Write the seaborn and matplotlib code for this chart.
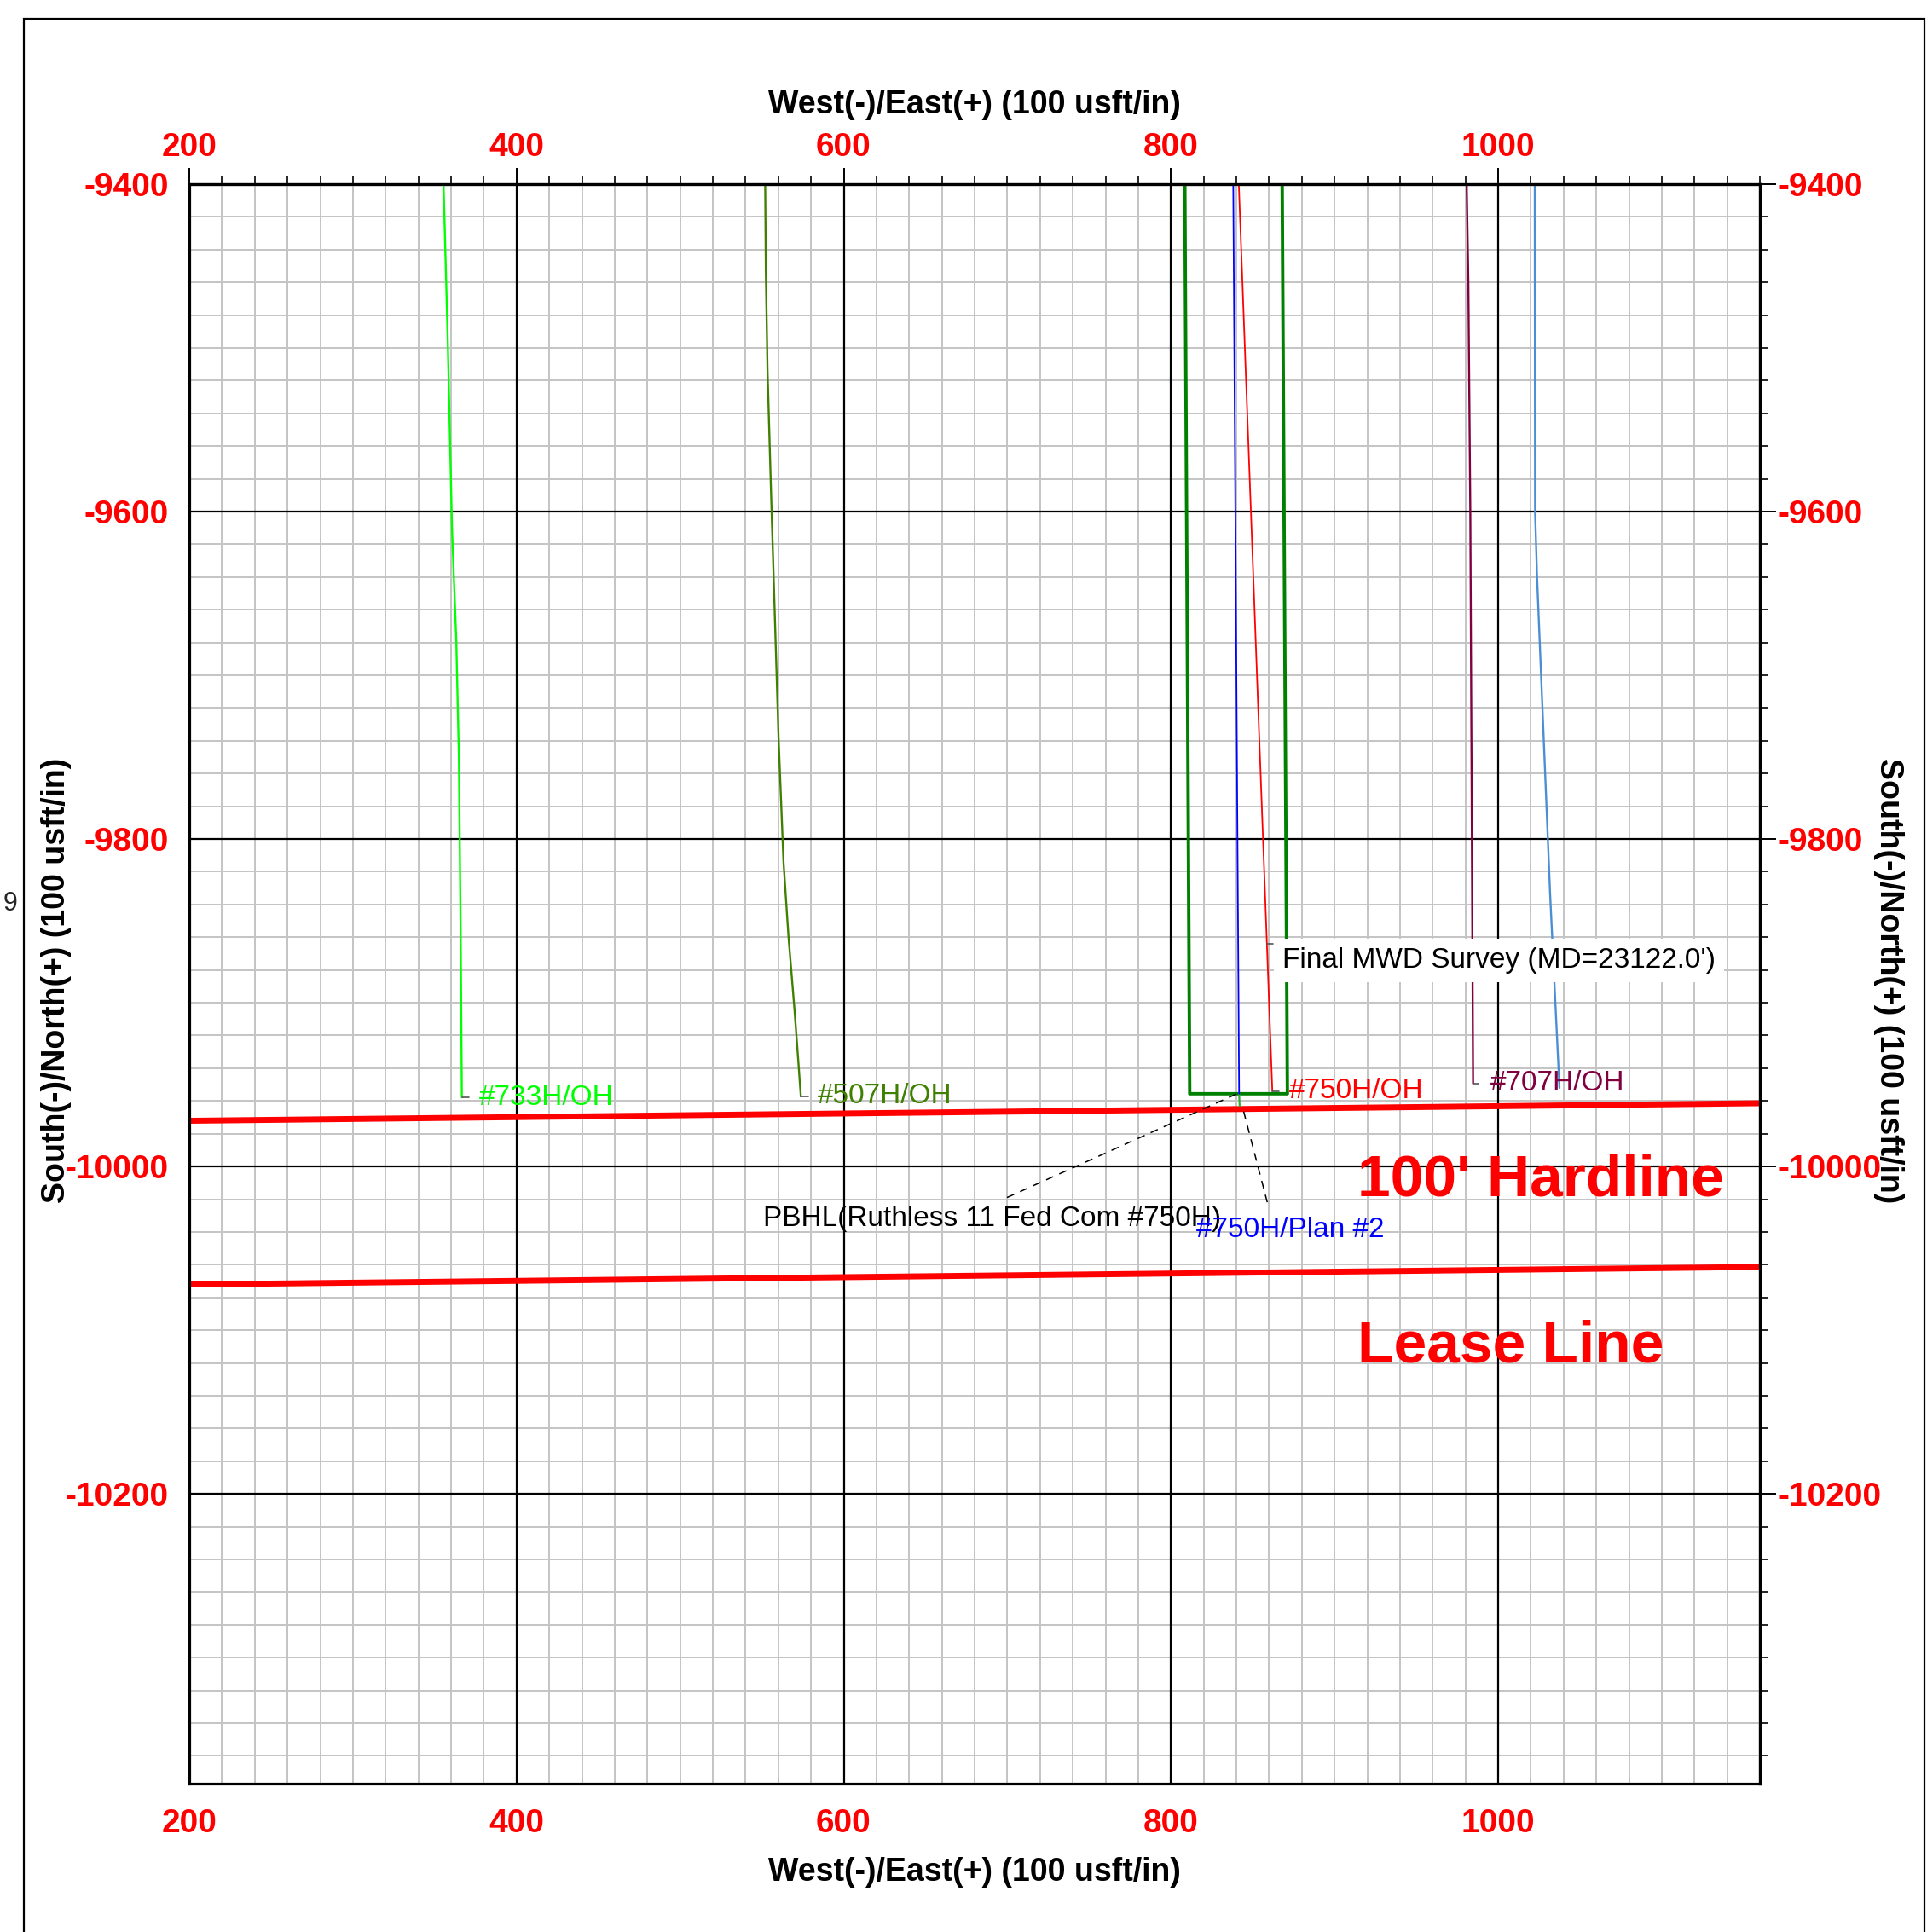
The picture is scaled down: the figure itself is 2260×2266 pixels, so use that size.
import pandas as pd
import seaborn as sns
import matplotlib.pyplot as plt
from matplotlib.ticker import MultipleLocator
from matplotlib.patches import Rectangle

X_LIM = (200, 1160)
Y_LIM = (-10377, -9400)
X_TICKS = [200, 400, 600, 800, 1000]
Y_TICKS = [-9400, -9600, -9800, -10000, -10200]

HARDLINE_X = [200, 1160]
HARDLINE_Y = [-9972.1, -9961.4]
LEASE_X = [200, 1160]
LEASE_Y = [-10072.1, -10061.4]

WELL_733H_X = [355.4, 358.0, 360.6, 363.2, 364.8, 365.8, 366.6]
WELL_733H_Y = [-9400, -9496, -9611, -9679, -9750, -9850, -9957.8]
WELL_507H_X = [552.0, 552.4, 553.4, 555.6, 557.9, 560.2, 563.2, 566.2, 569.9, 572.2, 573.8]
WELL_507H_Y = [-9400, -9453, -9513, -9589, -9664, -9739, -9814, -9859, -9904, -9935, -9957.3]
WELL_750H_X = [841.5, 862.0]
WELL_750H_Y = [-9400, -9954]
PLAN_750H_X = [838.1, 841.7]
PLAN_750H_Y = [-9400, -9955.6]
WELL_707H_X = [980.8, 981.8, 983.0, 984.7]
WELL_707H_Y = [-9400, -9460, -9600, -9949.3]
OFFSET_X = [1022.4, 1022.6, 1023.8, 1031.8, 1037.5]
OFFSET_Y = [-9400, -9600, -9640, -9834, -9952]
BOX_X = [808.5, 811.5, 871.2, 868.0]
BOX_Y = [-9400, -9955.6, -9955.6, -9400]
TAIL_X = [841.7, 842.0]
TAIL_Y = [-9955.6, -9963]

WELLS = [
    ("#733H/OH", WELL_733H_X, WELL_733H_Y, "#00ff00", 1.7),
    ("#507H/OH", WELL_507H_X, WELL_507H_Y, "#408000", 1.7),
    ("box", BOX_X, BOX_Y, "#008000", 2.8),
    ("tail", TAIL_X, TAIL_Y, "#33aa33", 1.6),
    ("#750H/OH", WELL_750H_X, WELL_750H_Y, "#ff0000", 1.3),
    ("#750H/Plan #2", PLAN_750H_X, PLAN_750H_Y, "#0000ff", 1.3),
    ("#707H/OH", WELL_707H_X, WELL_707H_Y, "#800040", 1.7),
    ("offset", OFFSET_X, OFFSET_Y, "#4a8fd4", 1.7),
]

# (text, x, y, colour) of the well end labels
END_LABELS = [
    ("#733H/OH", 376.9, -9958.0, "#00ff00"),
    ("#507H/OH", 583.8, -9956.8, "#408000"),
    ("#750H/OH", 872.5, -9954.0, "#ff0000"),
    ("#707H/OH", 995.2, -9949.0, "#800040"),
]
END_TICKS = [
    ([366.6, 370.8], [-9957.8, -9957.8]),
    ([573.8, 578.5], [-9957.3, -9957.3]),
    ([862.0, 866.0], [-9954.0, -9954.0]),
    ([984.7, 988.0], [-9949.3, -9949.3]),
    ([858.6, 862.5], [-9864.0, -9864.0]),
]
LEADERS = [
    ([699.8, 841.7], [-10019.0, -9955.0]),
    ([858.9, 844.0], [-10021.9, -9964.6]),
]

W, H = 2260, 2266


def main():
    sns.set_theme(style="white")
    plt.rcParams["font.family"] = ["Liberation Sans", "DejaVu Sans"]
    plt.rcParams["axes.unicode_minus"] = False

    fig = plt.figure(figsize=(W / 100, H / 100), dpi=100)
    fig.add_artist(Rectangle((28 / W, -0.01), (2257 - 28) / W, 1 - 22 / H + 0.01,
                             transform=fig.transFigure, fill=False, ec="black", lw=1.6))
    fig.text(12 / W, 1 - 1060 / H, "9", fontsize=22, ha="center", va="center")

    ax = fig.add_axes([222 / W, 1 - 2092 / H, (2064 - 222) / W, (2092 - 216) / H])
    ax.set_xlim(*X_LIM)
    ax.set_ylim(*Y_LIM)

    # grid
    ax.xaxis.set_minor_locator(MultipleLocator(20))
    ax.yaxis.set_minor_locator(MultipleLocator(20))
    ax.grid(which="minor", color="#c4c4c4", lw=1.4)
    ax.set_axisbelow(True)
    for v in X_TICKS:
        ax.axvline(v, color="black", lw=1.6, zorder=0.8)
    for v in Y_TICKS:
        ax.axhline(v, color="black", lw=1.6, zorder=0.8)

    # hardline and lease line
    sns.lineplot(x=HARDLINE_X, y=HARDLINE_Y, ax=ax, color="#ff0000", lw=5, zorder=3)
    sns.lineplot(x=LEASE_X, y=LEASE_Y, ax=ax, color="#ff0000", lw=5, zorder=3)

    for name, xs, ys, col, lw in WELLS:
        df = pd.DataFrame({"x": xs, "y": ys})
        sns.lineplot(data=df, x="x", y="y", ax=ax, sort=False, estimator=None,
                     color=col, lw=lw, zorder=4)

    for xs, ys in END_TICKS:
        ax.plot(xs, ys, color="#555555", lw=1.2, zorder=4)
    for xs, ys in LEADERS:
        ax.plot(xs, ys, color="black", lw=1.1, ls=(0, (6, 5)), zorder=5)

    for text, x, y, col in END_LABELS:
        ax.text(x, y, text, color=col, fontsize=24, ha="left", va="center", zorder=6)
    ax.text(868.0, -9874.3, "Final MWD Survey (MD=23122.0')", color="black", fontsize=24,
            ha="left", va="center", zorder=6,
            bbox=dict(boxstyle="square,pad=0.3", fc="white", ec="none"))
    ax.text(551.0, -10032.0, "PBHL(Ruthless 11 Fed Com #750H)", color="black", fontsize=24,
            ha="left", va="center", zorder=6)
    ax.text(815.6, -10039.0, "#750H/Plan #2", color="#0000ff", fontsize=24,
            ha="left", va="center", zorder=6)
    ax.text(914.0, -10017.7, "100' Hardline", color="#ff0000", fontsize=50,
            fontweight="bold", ha="left", va="baseline", zorder=6)
    ax.text(914.0, -10119.3, "Lease Line", color="#ff0000", fontsize=50,
            fontweight="bold", ha="left", va="baseline", zorder=6)

    ax.set_xlabel("")
    ax.set_ylabel("")
    lab = dict(fontsize=28, fontweight="bold", color="#ff0000")
    ax.set_xticks(X_TICKS, labels=[str(t) for t in X_TICKS], **lab)
    ax.set_yticks(Y_TICKS, labels=[str(t) for t in Y_TICKS], **lab)
    ax.tick_params(which="major", direction="out", length=13.7, width=1.4, color="black")
    ax.tick_params(which="minor", direction="out", length=7.2, width=1.2, color="black")
    ax.tick_params(axis="x", which="major", pad=7.5)
    ax.tick_params(axis="y", which="major", pad=3.6)
    for s in ax.spines.values():
        s.set_color("black")
        s.set_linewidth(2.3)
        s.set_zorder(7)

    top = ax.secondary_xaxis("top")
    top.set_xticks(X_TICKS, labels=[str(t) for t in X_TICKS], **lab)
    top.xaxis.set_minor_locator(MultipleLocator(20))
    top.tick_params(which="major", direction="out", length=13.7, width=1.4, color="black", pad=4)
    top.tick_params(which="minor", direction="out", length=7.2, width=1.2, color="black")
    top.spines["top"].set_linewidth(2.3)

    right = ax.secondary_yaxis("right")
    right.set_yticks(Y_TICKS, labels=[str(t) for t in Y_TICKS], **lab)
    right.yaxis.set_minor_locator(MultipleLocator(20))
    right.tick_params(which="major", direction="out", length=13.7, width=1.4, color="black", pad=2)
    right.tick_params(which="minor", direction="out", length=7.2, width=1.2, color="black")
    right.spines["right"].set_linewidth(2.3)

    title = dict(fontsize=27, fontweight="bold", color="black", ha="center", va="center")
    fig.text(1143 / W, 1 - 123 / H, "West(-)/East(+) (100 usft/in)", **title)
    fig.text(1143 / W, 1 - 2196 / H, "West(-)/East(+) (100 usft/in)", **title)
    fig.text(66 / W, 1 - 1150 / H, "South(-)/North(+) (100 usft/in)", rotation=90, **title)
    fig.text(2215 / W, 1 - 1150 / H, "South(-)/North(+) (100 usft/in)", rotation=-90, **title)

    fig.savefig("out.png", dpi=100)
    plt.close(fig)


if __name__ == "__main__":
    main()
